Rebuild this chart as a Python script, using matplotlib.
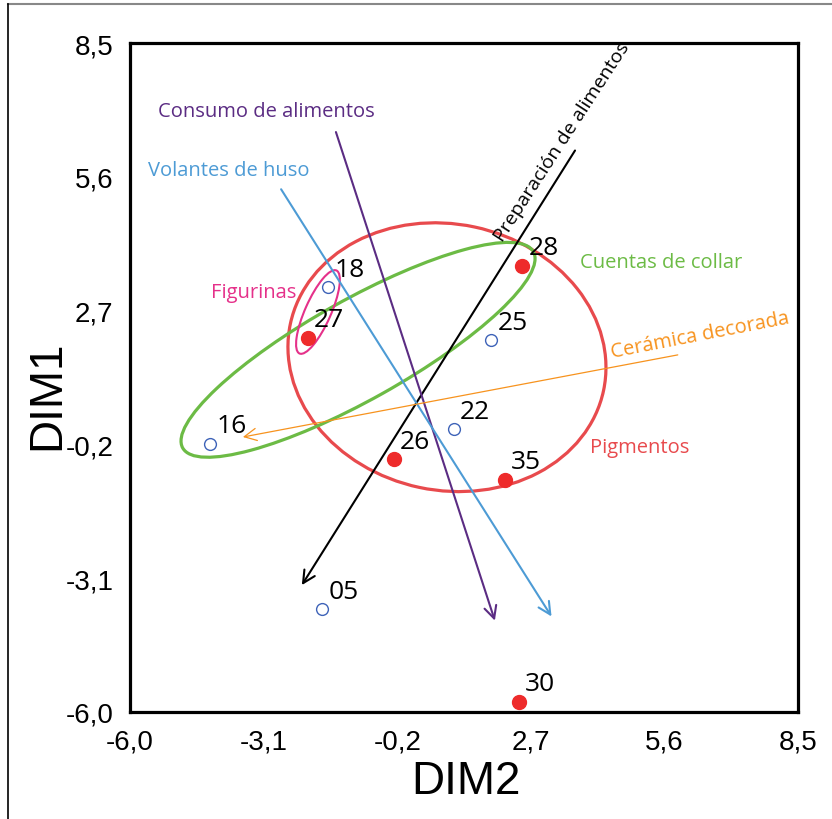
import matplotlib
matplotlib.use("Agg")
import matplotlib.pyplot as plt
from matplotlib.patches import Ellipse
from matplotlib.lines import Line2D

# ---------------- data ----------------
site_labels = ["18", "27", "16", "28", "25", "22", "26", "35", "05", "30"]
dim2 = [-1.70, -2.14, -4.26, 2.51, 1.84, 1.03, -0.27, 2.14, -1.83, 2.44]
dim1 = [3.21, 2.11, -0.19, 3.67, 2.06, 0.13, -0.52, -0.97, -3.77, -5.78]
filled = [False, True, False, True, False, False, True, True, False, True]

tick_vals = [-6.0, -3.1, -0.2, 2.7, 5.6, 8.5]
tick_text = ["-6,0", "-3,1", "-0,2", "2,7", "5,6", "8,5"]

# vectors: name, start (dim2, dim1), end (dim2, dim1)
vec_names = ["Preparación de alimentos", "Consumo de alimentos",
             "Volantes de huso", "Cerámica decorada"]
vec_start = [(3.66, 6.17), (-1.53, 6.57), (-2.72, 5.33), (5.89, 1.74)]
vec_end = [(-2.27, -3.25), (1.92, -4.02), (3.15, -3.93), (-3.55, -0.04)]

# ellipses: name, center, width, height, angle
ell_names = ["Pigmentos", "Cuentas de collar", "Figurinas"]
ell_center = [(0.88, 1.69), (-1.05, 1.85), (-1.92, 2.67)]
ell_width = [6.95, 8.72, 1.97]
ell_height = [5.77, 2.17, 0.56]
ell_angle = [-12, 29.2, 66]

# ---------------- style ----------------
AXF = ["Liberation Sans", "DejaVu Sans"]
TXT = ["Open Sans", "DejaVu Sans"]

fig = plt.figure(figsize=(8.32, 8.2), dpi=100)
ax = fig.add_axes([130 / 832, 1 - 713 / 820, 668 / 832, 669 / 820])
ax.set_xlim(-6.0, 8.5)
ax.set_ylim(-6.0, 8.5)

for s in ax.spines.values():
    s.set_linewidth(2.3)
    s.set_color("black")

ax.set_xticks(tick_vals)
ax.set_xticklabels(tick_text, fontsize=20, family=AXF)
ax.set_yticks(tick_vals)
ax.set_yticklabels(tick_text, fontsize=20, family=AXF)
ax.tick_params(axis="x", length=0, pad=12)
ax.tick_params(axis="y", length=0, pad=12)
ax.set_xlabel("DIM2", fontsize=33, family=AXF)
ax.set_ylabel("DIM1", fontsize=33, family=AXF)
ax.xaxis.label.set_va("center")
ax.xaxis.set_label_coords(0.503, -0.103)
ax.yaxis.label.set_va("center")
ax.yaxis.set_label_coords(-0.124, 0.475)

# ellipses
ell_colors = ["#e84a4d", "#6cbb45", "#e5318a"]
ell_lw = [2.3, 2.3, 1.5]
for c, w, h, a, col, lw in zip(ell_center, ell_width, ell_height, ell_angle, ell_colors, ell_lw):
    ax.add_patch(Ellipse(c, w, h, angle=a, fill=False, edgecolor=col, lw=lw, zorder=2))

# vectors
vec_colors = ["black", "#5b2c83", "#4d9bd5", "#f7931e"]
vec_lw = [1.5, 1.5, 1.5, 0.9]
for s, e, col, lw in zip(vec_start, vec_end, vec_colors, vec_lw):
    ax.annotate("", xy=e, xytext=s,
                arrowprops=dict(arrowstyle="->", color=col, lw=lw,
                                shrinkA=0, shrinkB=0, mutation_scale=22),
                zorder=3)

# vector labels
ax.text(3.38, 6.37, vec_names[0], rotation=57, rotation_mode="anchor",
        ha="center", va="center", fontsize=14, family=TXT, color="black")
ax.text(-5.39, 7.03, vec_names[1], ha="left", va="center", fontsize=14.5,
        family=TXT, color="#5b2c83")
ax.text(-5.61, 5.75, vec_names[2], ha="left", va="center", fontsize=14.5,
        family=TXT, color="#4d9bd5")
ax.text(6.37, 2.17, vec_names[3], rotation=11, rotation_mode="anchor",
        ha="center", va="center", fontsize=14.5, family=TXT, color="#f7931e")

# ellipse labels
ax.text(3.98, -0.26, ell_names[0], ha="left", va="center", fontsize=14.5,
        family=TXT, color="#e84a4d")
ax.text(3.77, 3.75, ell_names[1], ha="left", va="center", fontsize=14.5,
        family=TXT, color="#6cbb45")
ax.text(-4.24, 3.10, ell_names[2], ha="left", va="center", fontsize=14.5,
        family=TXT, color="#e5318a")

# points
for x, y, f, lab in zip(dim2, dim1, filled, site_labels):
    if f:
        ax.plot(x, y, "o", ms=10, mfc="#ee2b2b", mec="#ee2b2b", zorder=5)
    else:
        ax.plot(x, y, "o", ms=8.5, mfc="white", mec="#3e63b8", mew=1.0, zorder=5)
    ax.annotate(lab, (x, y), xytext=(4.5, 13.0), textcoords="offset points",
                ha="left", va="center", fontsize=19, family=TXT, color="black",
                zorder=6)

# outer frame lines
fig.add_artist(Line2D([8 / 832, 1], [1 - 5 / 820, 1 - 5 / 820],
                      transform=fig.transFigure, color="#888888", lw=1.5))
fig.add_artist(Line2D([8 / 832, 8 / 832], [0, 1 - 5 / 820],
                      transform=fig.transFigure, color="black", lw=1.2))

fig.savefig("out.png", dpi=100)
